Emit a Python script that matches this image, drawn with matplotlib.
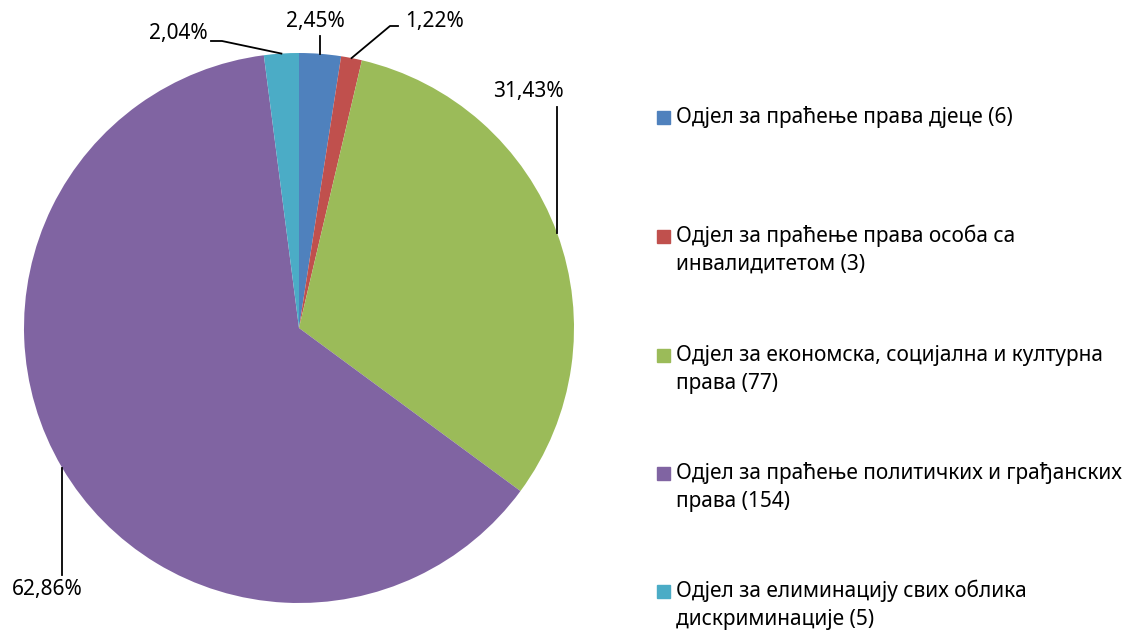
import matplotlib
matplotlib.use('Agg')
import matplotlib.pyplot as plt
import numpy as np
from matplotlib.patches import Rectangle

plt.rcParams['font.family'] = ['Noto Sans', 'DejaVu Sans']

# data
categories = [
    'Одјел за праћење права дјеце (6)',
    'Одјел за праћење права особа са\nинвалидитетом (3)',
    'Одјел за економска, социјална и културна\nправа (77)',
    'Одјел за праћење политичких и грађанских\nправа (154)',
    'Одјел за елиминацију свих облика\nдискриминације (5)',
]
values = [6, 3, 77, 154, 5]
colors = ['#4F81BD', '#C0504D', '#9BBB59', '#8064A2', '#4BACC6']

W, H = 1128, 633
fig = plt.figure(figsize=(W / 100, H / 100), dpi=100)
ax = fig.add_axes([0, 0, 1, 1])

cx, cy, r = 299, H - 328, 275
wedges, _ = ax.pie(values, colors=colors, startangle=90, counterclock=False,
                   center=(cx, cy), radius=r, frame=True,
                   wedgeprops=dict(linewidth=0))
ax.set_xlim(0, W)
ax.set_ylim(0, H)
ax.axis('off')

total = sum(values)
pct = [f"{v / total * 100:.2f}%".replace('.', ',') for v in values]

# label text positions (pixel, y from top) and leader elbows
label_pos = [(315, 21), (435, 21), (528, 92), (47, 590), (178, 33)]
elbow_end = [None, (398, 26), None, None, (211, 41)]
elbow_mid = [None, (390, 26), None, None, (222, 41)]
fs = 15

for i, w in enumerate(wedges):
    ang = np.deg2rad((w.theta1 + w.theta2) / 2)
    px, py = cx + r * np.cos(ang), cy + r * np.sin(ang)
    tx, ty = label_pos[i]
    ax.text(tx, H - ty, pct[i], ha='center', va='center', fontsize=fs)
    if elbow_end[i] is None:
        # vertical leader
        y_end = H - (ty + 15) if ty < 328 else H - (ty - 15)
        ax.plot([px, px], [py, y_end], color='black', lw=1.3)
    else:
        mx, my = elbow_mid[i]
        ex, ey = elbow_end[i]
        ax.plot([px, mx, ex], [py, H - my, H - ey], color='black', lw=1.3)

# legend
ys = [117, 236, 355, 473, 591]
for i, lab in enumerate(categories):
    y = H - ys[i]
    ax.add_patch(Rectangle((657, y - 6.5), 13, 13, color=colors[i]))
    for j, line in enumerate(lab.split('\n')):
        ax.text(676, y - j * 28, line, ha='left', va='center', fontsize=fs)

fig.savefig('out.png', dpi=100)
